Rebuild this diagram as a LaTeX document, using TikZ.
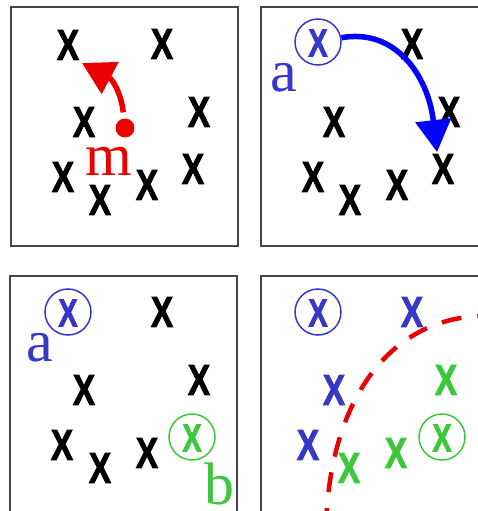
\documentclass[tikz,border=0pt]{standalone}
\usepackage{fontspec}
\setmainfont{Liberation Serif}
\newfontfamily\xfont[BoldFeatures={FakeBold=2.2}]{Liberation Sans}
\usetikzlibrary{arrows.meta}
\definecolor{xblue}{RGB}{55,55,200}
\definecolor{xgreen}{RGB}{60,200,60}
\definecolor{framegray}{RGB}{70,70,70}
\definecolor{xred}{RGB}{235,0,0}
\begin{document}
\begin{tikzpicture}[x=1pt,y=-1pt,
  panel/.style={draw=framegray, line width=2pt},
  xm/.style={font=\xfont\bfseries\fontsize{43}{43}\selectfont, inner sep=0pt, xscale=0.77, text=black},
  xin/.style={font=\xfont\bfseries\fontsize{39}{39}\selectfont, inner sep=0pt, xscale=0.74},
  ring/.style={circle, line width=1.5pt, minimum size=46pt, inner sep=0pt},
  lbl/.style={font=\fontsize{60}{60}\selectfont, anchor=base, inner sep=0pt},
  bigarrow/.style={line width=5.5pt, -{Triangle[length=32pt,width=35pt]}}]
\path[use as bounding box] (0,0) rectangle (478,511);
\clip (0,0) rectangle (478,511);
% panels
\draw[panel] (11,7) rectangle (238,246);
\draw[panel] (261,7) rectangle (484,246);
\draw[panel] (10,276) rectangle (237,520);
\draw[panel] (261,276) rectangle (484,520);
% ---------- panel 1
\node[xm] (p1A) at (68,45) {X};
\node[xm] (p1B) at (162,44) {X};
\node[xm] (p1C) at (84,122) {X};
\node[xm] (p1D) at (199,112) {X};
\node[xm] (p1E) at (63,177) {X};
\node[xm] (p1F) at (100,200) {X};
\node[xm] (p1G) at (147,185) {X};
\node[xm] (p1H) at (193,169) {X};
\node[circle, fill=xred, minimum size=19pt, inner sep=0pt] (dot) at (125,128) {};
\node[lbl, text=xred] (mlab) at (109,175) {m};
\coordinate (mtip) at (82,63);
\draw[bigarrow, xred, shorten <=6pt] (dot) .. controls (121,92) and (112,79) .. (mtip);
% ---------- panel 2
\node[ring, draw=xblue] (p2ring) at (318,42) {};
\node[xin, text=xblue] (p2A) at (318,43) {X};
\node[xm] (p2B) at (412,44) {X};
\node[xm] (p2C) at (334,122) {X};
\node[xm] (p2D) at (449,112) {X};
\node[xm] (p2E) at (313,177) {X};
\node[xm] (p2F) at (350,200) {X};
\node[xm] (p2G) at (397,185) {X};
\node[xm] (p2H) at (443,169) {X};
\node[lbl, text=xblue] (alab2) at (284,92) {a};
\coordinate (atip) at (437,152);
\draw[bigarrow, blue] (p2ring) .. controls (395,28) and (428,75) .. (atip);
% ---------- panel 3
\node[ring, draw=xblue] (p3ring) at (68,312) {};
\node[xin, text=xblue] (p3A) at (68,313) {X};
\node[xm] (p3B) at (162,312) {X};
\node[xm] (p3C) at (84,390) {X};
\node[xm] (p3D) at (199,380) {X};
\node[xm] (p3E) at (62,445) {X};
\node[xm] (p3F) at (100,468) {X};
\node[xm] (p3G) at (147,453) {X};
\node[ring, draw=xgreen] (p3ring2) at (192,437) {};
\node[xin, text=xgreen] (p3H) at (192,438) {X};
\node[lbl, text=xblue] (alab3) at (40,361) {a};
\node[lbl, text=xgreen] (blab3) at (219,504) {b};
% ---------- panel 4
\node[ring, draw=xblue] (p4ring) at (318,312) {};
\node[xin, text=xblue] (p4A) at (318,313) {X};
\node[xm, text=xblue] (p4B) at (412,312) {X};
\node[xm, text=xblue] (p4C) at (334,390) {X};
\node[xm, text=xblue] (p4E) at (308,445) {X};
\node[xm, text=xgreen] (p4D) at (446,380) {X};
\node[xm, text=xgreen] (p4F) at (349,468) {X};
\node[xm, text=xgreen] (p4G) at (396,453) {X};
\node[ring, draw=xgreen] (p4ring2) at (442,437) {};
\node[xin, text=xgreen] (p4H) at (442,438) {X};
\draw[xred, line width=4.5pt, dash pattern=on 20pt off 16pt] (326,528) .. controls (329,400) and (390,318) .. (482,316);
\end{tikzpicture}
\end{document}
